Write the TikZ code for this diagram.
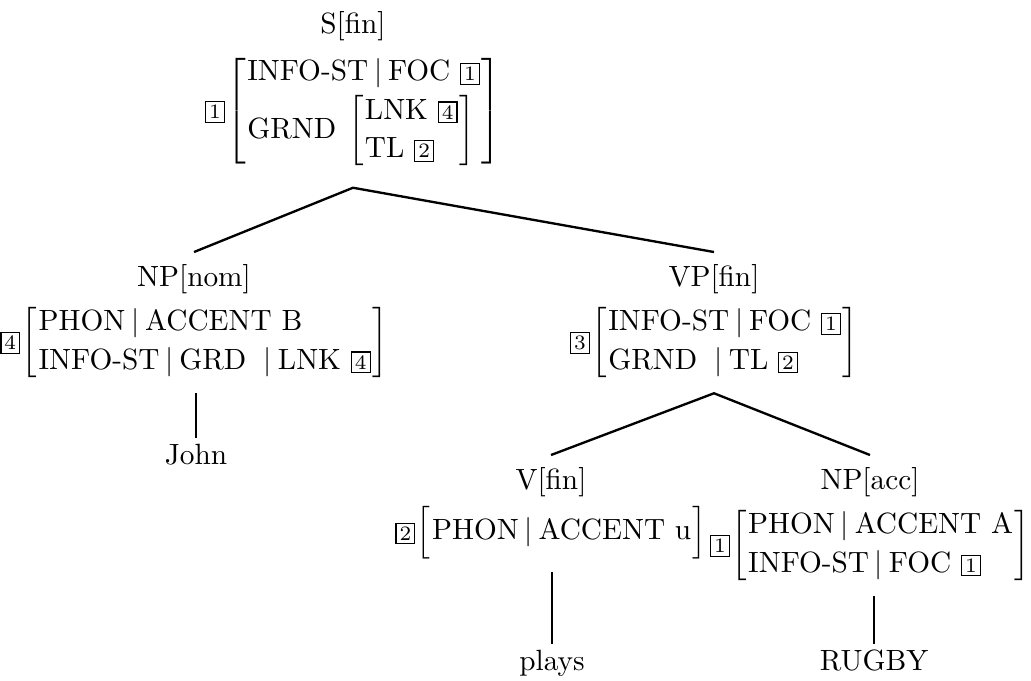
\documentclass[tikz,border=0pt]{standalone}
\usetikzlibrary{positioning}

% boxed structure-sharing tags and feature structures
\newcommand{\boxtag}[1]{{\setlength{\fboxsep}{1pt}\fbox{\scriptsize #1}}}
\newcommand{\pbar}{\hspace{2pt}$|$\hspace{2pt}}
\newcommand{\avm}[1]{$\left[\begin{tabular}{@{\hspace{0.5pt}}l@{\hspace{0.5pt}}}#1\end{tabular}\right]$}
\newcommand{\rowstrut}{\rule[-4.5pt]{0pt}{13.5pt}}
\renewcommand{\arraystretch}{1.1}

\tikzset{
    cat/.style={inner sep=0pt},
    fs/.style={inner sep=0pt},
    word/.style={inner sep=0pt, anchor=base},
    branch/.style={line width=0.8pt},
    leaf/.style={line width=0.5pt, shorten <=4pt, shorten >=2pt}
}

\begin{document}
\begin{tikzpicture}[x=0.012cm,y=0.012cm]
    \useasboundingbox (0,0) rectangle (1031,681);

    % S
    \node[cat] (sCat) at (353,655) {S[fin]};
    \node[fs, below=4pt of sCat] (sAVM) {\boxtag{1}\hspace{0.5pt}\avm{INFO-ST\pbar FOC \boxtag{1}\\
        GRND\hspace{4pt}\avm{LNK \boxtag{4}\\ TL \boxtag{2}}}};

    % NP and VP
    \node[cat] (npCat) at (194,402) {NP[nom]};
    \node[fs, below=3pt of npCat] (npAVM) {\boxtag{4}\hspace{0.5pt}\avm{PHON\pbar ACCENT B\\
        INFO-ST\pbar GRD\hspace{6pt}$|$\hspace{2pt}LNK \boxtag{4}}};
    \node[cat] (vpCat) at (714,402) {VP[fin]};
    \node[fs, below=3pt of vpCat] (vpAVM) {\boxtag{3}\hspace{0.5pt}\avm{INFO-ST\pbar FOC \boxtag{1}\\
        GRND\hspace{6pt}$|$\hspace{2pt}TL \boxtag{2}}};

    % V and NP
    \node[cat] (vCat) at (551,199) {V[fin]};
    \node[fs, below=3pt of vCat] (vAVM) {\boxtag{2}\hspace{0.5pt}\avm{\rowstrut PHON\pbar ACCENT u}};
    \node[cat] (npaccCat) at (870,199) {NP[acc]};
    \node[fs, below=3pt of npaccCat] (npaccAVM) {\boxtag{1}\hspace{0.5pt}\avm{PHON\pbar ACCENT A\\
        INFO-ST\pbar FOC \boxtag{1}}};

    % words
    \node[word] (john) at (196,216) {John};
    \node[word] (plays) at (552,10) {plays};
    \node[word] (rugby) at (874,10) {RUGBY};

    % branches
    \path (sAVM.south -| sCat) ++(0,-6pt) coordinate (sTop);
    \path (vpAVM.south -| vpCat) ++(0,-4pt) coordinate (vpTop);
    \draw[branch] ([yshift=4pt]npCat.north) -- (sTop) -- ([yshift=4pt]vpCat.north);
    \draw[branch] ([yshift=4pt]vCat.north) -- (vpTop) -- ([yshift=4pt]npaccCat.north);

    \draw[leaf] (npAVM.south -| john.north) -- (john.north);
    \draw[leaf] (vAVM.south -| plays.north) -- (plays.north);
    \draw[leaf] (npaccAVM.south -| rugby.north) -- (rugby.north);
\end{tikzpicture}
\end{document}
